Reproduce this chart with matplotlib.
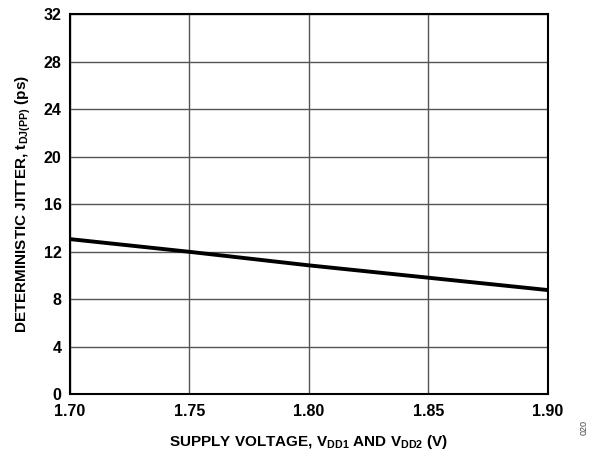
import matplotlib
matplotlib.use("Agg")
import matplotlib.pyplot as plt

# supply voltage (V) vs deterministic jitter (ps)
vdd = [1.70, 1.75, 1.80, 1.85, 1.90]
jitter = [13.05, 11.98, 10.84, 9.80, 8.76]

xticks = [1.70, 1.75, 1.80, 1.85, 1.90]
xtick_labels = ["1.70", "1.75", "1.80", "1.85", "1.90"]
yticks = [0, 4, 8, 12, 16, 20, 24, 28, 32]

plt.rcParams['font.family'] = ['Liberation Sans', 'DejaVu Sans']
plt.rcParams['font.weight'] = 'bold'
plt.rcParams['mathtext.fontset'] = 'custom'
plt.rcParams['mathtext.bf'] = 'Liberation Sans:bold'
plt.rcParams['mathtext.rm'] = 'Liberation Sans:bold'

fig = plt.figure(figsize=(5.93, 4.53), dpi=100)
ax = fig.add_axes([0.118, 0.130, 0.806, 0.839])

ax.plot(vdd, jitter, color='black', linewidth=2.8, solid_capstyle='butt')

ax.set_xlim(1.70, 1.90)
ax.set_ylim(0, 32)
ax.set_xticks(xticks)
ax.set_xticklabels(xtick_labels)
ax.set_yticks(yticks)
ax.grid(True, color='#555555', linewidth=1.0)
ax.tick_params(length=0, labelsize=11.5)
ax.tick_params(axis='x', pad=7)
ax.tick_params(axis='y', pad=6)
for lab in ax.get_xticklabels() + ax.get_yticklabels():
    lab.set_fontweight('bold')
for s in ax.spines.values():
    s.set_linewidth(1.5)
    s.set_color('black')

ax.set_xlabel(r"SUPPLY VOLTAGE, V$_{\mathbf{DD1}}$ AND V$_{\mathbf{DD2}}$ (V)",
              fontsize=11, fontweight='bold', labelpad=10)
ax.set_ylabel(r"DETERMINISTIC JITTER, t$_{\mathbf{DJ(PP)}}$ (ps)",
              fontsize=11, fontweight='bold', labelpad=8)

fig.text(0.985, 0.04, "020", rotation=90, fontsize=6.5, color='#444444',
         fontweight='normal', ha='center', va='bottom')

fig.savefig("out.png", dpi=100)
